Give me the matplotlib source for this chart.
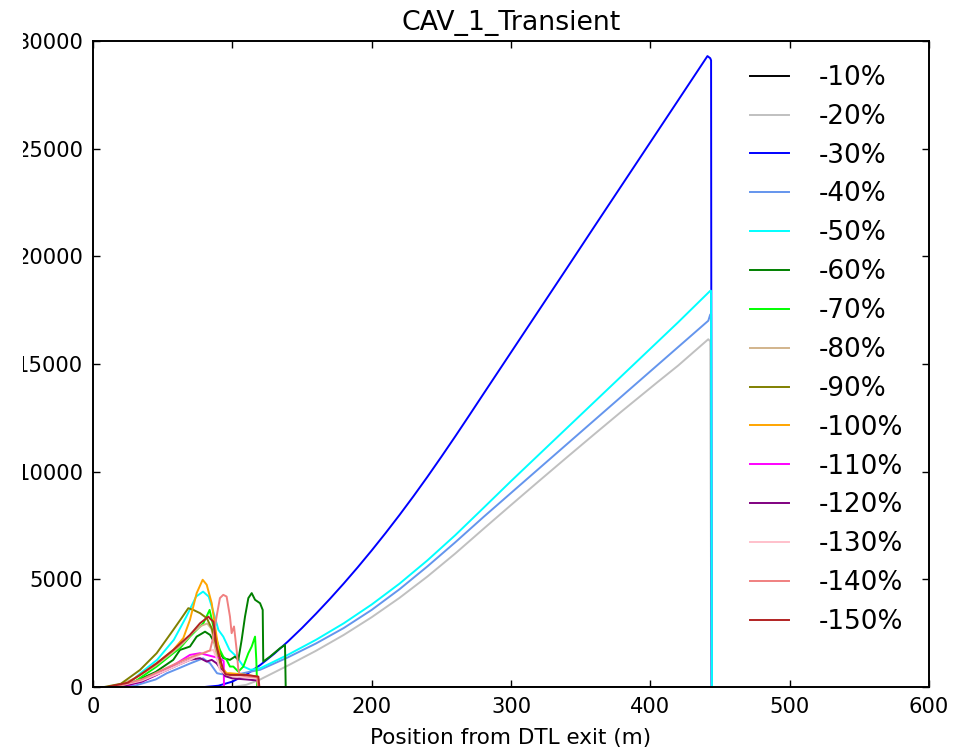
import matplotlib
matplotlib.use('Agg')
import matplotlib.pyplot as plt
from matplotlib.transforms import Bbox, TransformedBbox

# loss profiles along the linac for each cavity-1 amplitude error
labels = ['-10%', '-20%', '-30%', '-40%', '-50%', '-60%', '-70%', '-80%',
          '-90%', '-100%', '-110%', '-120%', '-130%', '-140%', '-150%']
colors = ['black', 'silver', 'blue', 'cornflowerblue', 'cyan', 'green',
          'lime', 'tan', 'olive', 'orange', 'magenta', 'purple', 'pink',
          'lightcoral', 'firebrick']

pos_10 = [0, 444]
loss_10 = [0, 0]

pos_20 = [100, 110, 120, 140, 160, 180, 200, 220, 240, 260, 280, 300, 320,
          340, 360, 380, 405, 420, 441.6, 443, 443.8]
loss_20 = [0, 100, 350, 1000, 1680, 2420, 3240, 4140, 5130, 6200, 7330, 8450,
           9560, 10660, 11750, 12830, 14150, 14930, 16150, 16050, 0]

pos_30 = [80, 90, 100, 110, 120, 130, 140, 150, 160, 170, 180, 190, 200, 210,
          220, 230, 240, 250, 260, 270, 280, 300, 320, 340, 360, 380, 400,
          420, 441, 443, 443.6, 444]
loss_30 = [0, 60, 250, 580, 1020, 1540, 2120, 2740, 3400, 4090, 4810, 5560,
           6340, 7150, 7990, 8860, 9760, 10690, 11640, 12610, 13590, 15540,
           17490, 19440, 21400, 23350, 25300, 27250, 29300, 29200, 29100, 0]

pos_40 = [12, 30, 45, 53, 62, 70, 79, 84, 89, 92, 98, 105, 112, 120, 140, 160,
          180, 200, 220, 240, 260, 280, 300, 320, 340, 360, 380, 400, 420,
          441.6, 443, 443.6, 444.2]
loss_40 = [0, 60, 350, 640, 880, 1100, 1330, 1100, 640, 600, 560, 600, 700,
           800, 1380, 2020, 2740, 3580, 4540, 5600, 6720, 7880, 9010, 10140,
           11270, 12400, 13530, 14660, 15790, 17010, 17300, 17300, 0]

pos_50 = [15, 25, 34, 46, 58, 67, 74, 79, 83, 86, 90, 93.5, 98, 103, 108, 113,
          120, 140, 160, 180, 200, 220, 240, 260, 280, 300, 320, 340, 360, 380,
          400, 420, 443, 443.6, 444.2]
loss_50 = [0, 120, 640, 1260, 2190, 3270, 4200, 4430, 4200, 3580, 2650, 2340,
           1720, 1410, 950, 800, 870, 1500, 2190, 2960, 3830, 4800, 5880, 7050,
           8300, 9560, 10790, 12020, 13250, 14480, 15710, 16940, 18400, 18400,
           0]

pos_60 = [15, 30, 45, 57.6, 62.4, 69.6, 74.4, 80.4, 84, 88.7, 93.5, 98.3,
          101.9, 104.3, 106.7, 109.1, 111.5, 113.9, 116.3, 119.9, 121.8, 122.2,
          127, 134.2, 137.8, 138.3]
loss_60 = [0, 250, 700, 1260, 1720, 1880, 2340, 2570, 2420, 1880, 1340, 1260,
           1410, 1260, 2190, 3270, 4130, 4360, 4050, 3890, 3580, 1180, 1410,
           1800, 1950, 0]

pos_70 = [18, 30, 45.7, 57.6, 62.4, 69.6, 76.8, 79.2, 83.7, 86.4, 88.7, 91.1,
          93.5, 95.9, 98.3, 100.7, 104.3, 107.9, 111.5, 113.9, 116.3, 117.2,
          117.8]
loss_70 = [0, 250, 950, 1570, 1800, 2340, 2810, 2960, 3580, 2810, 2190, 1720,
           1410, 1260, 950, 950, 715, 950, 1570, 1880, 2340, 1260, 0]

pos_80 = [15, 30, 45, 57, 65, 72, 78, 82, 85, 88, 91, 95, 100, 110, 118, 118.6]
loss_80 = [0, 400, 1000, 1600, 2050, 2550, 2850, 2950, 2700, 1700, 900, 550,
           500, 500, 450, 0]

pos_90 = [8, 20, 33.7, 45.7, 57.6, 63, 68.4, 72, 76.8, 81.6, 85.2, 88.7, 92.3,
          95.9, 100, 110, 118, 118.6]
loss_90 = [0, 150, 790, 1570, 2650, 3150, 3660, 3580, 3430, 3200, 2730, 1880,
           790, 560, 500, 500, 480, 0]

pos_100 = [14, 25, 33.7, 45.7, 57.6, 64.8, 69.6, 74.4, 78.7, 81.6, 85.2, 88.7,
           92.3, 95.9, 98.3, 105, 110.3, 117.5, 118.7]
loss_100 = [0, 200, 560, 1100, 1720, 2270, 3120, 4360, 4980, 4750, 3890, 2340,
            950, 640, 640, 600, 560, 480, 0]

pos_110 = [20, 35, 45.7, 60, 69.6, 76.8, 81.6, 86.4, 91.1, 93.8, 94]
loss_110 = [0, 250, 560, 1100, 1490, 1570, 1490, 1410, 1340, 1200, 0]

pos_120 = [18, 35, 50, 62, 69.6, 76.8, 81.6, 85.2, 88.7, 92, 95, 100, 110,
           118.3, 118.8]
loss_120 = [0, 250, 700, 1050, 1260, 1340, 1180, 1260, 1100, 800, 500, 400,
            350, 300, 0]

pos_130 = [15, 35, 50, 69.6, 78, 81.6, 86.4, 89, 91.1, 95, 100, 110, 118,
           118.5]
loss_130 = [0, 300, 700, 1260, 1550, 1650, 1720, 1300, 790, 600, 500, 450,
            400, 0]

pos_140 = [15, 35, 50, 65, 75, 79.2, 84, 86.4, 88.7, 91.1, 93.5, 95.9, 98.3,
           99.5, 101.2, 103.1, 104.3, 105.5, 110, 118, 118.5]
loss_140 = [0, 350, 800, 1250, 1500, 1570, 1700, 2340, 3270, 4130, 4280, 4200,
            3270, 2500, 2810, 1720, 800, 560, 500, 450, 0]

pos_150 = [10, 25, 33.7, 45.7, 57.6, 69.6, 76.8, 81.6, 82.8, 84.4, 86.4, 88.7,
           93.5, 95, 98.3, 110.3, 118.7, 119.4]
loss_150 = [0, 200, 560, 1100, 1720, 2420, 2960, 3200, 3270, 3150, 3040, 1880,
            790, 600, 560, 560, 480, 0]

positions = [pos_10, pos_20, pos_30, pos_40, pos_50, pos_60, pos_70, pos_80,
             pos_90, pos_100, pos_110, pos_120, pos_130, pos_140, pos_150]
losses = [loss_10, loss_20, loss_30, loss_40, loss_50, loss_60, loss_70,
          loss_80, loss_90, loss_100, loss_110, loss_120, loss_130, loss_140,
          loss_150]

W, H = 971, 748
fig = plt.figure(figsize=(W / 100, H / 100), dpi=100, facecolor='white')
ax = fig.add_axes([93 / W, 1 - 687 / H, (929 - 93) / W, (687 - 41) / H])

for x, y, c, lab in zip(positions, losses, colors, labels):
    ax.plot(x, y, color=c, lw=1.4, label=lab)

ax.set_xlim(0, 600)
ax.set_ylim(0, 30000)
ax.set_xticks(range(0, 601, 100))
ax.set_yticks(range(0, 30001, 5000))
ax.tick_params(direction='in', top=True, right=True, length=5, width=1,
               labelsize=15.2, pad=7)
for s in ax.spines.values():
    s.set_linewidth(1.4)

ax.set_title('CAV_1_Transient', fontsize=19.3, pad=8)
ax.set_xlabel('Position from DTL exit (m)', fontsize=15.5, labelpad=8)

ax.legend(frameon=False, fontsize=18.9, loc='upper left',
          bbox_to_anchor=(0.786, 0.963), borderpad=0, borderaxespad=0,
          handlelength=1.5, handletextpad=1.1, labelspacing=0.49)

# the y labels run off the left edge of the canvas
clip = TransformedBbox(Bbox([[23 / W, 0], [1, 1]]), fig.transFigure)
for lbl in ax.get_yticklabels():
    lbl.set_clip_box(clip)
    lbl.set_clip_on(True)

fig.savefig('out.png', dpi=100, facecolor='white')
